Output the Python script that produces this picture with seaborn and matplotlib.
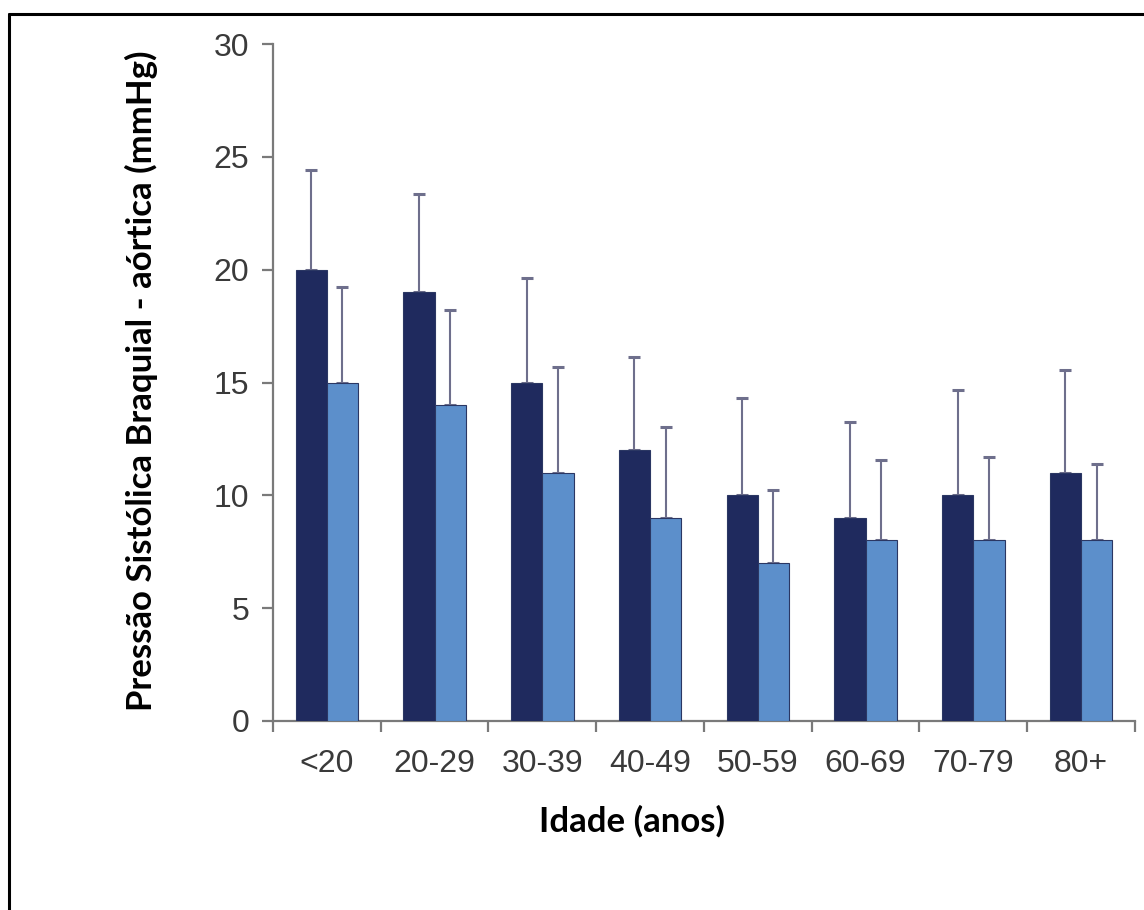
import numpy as np
import pandas as pd
import matplotlib.pyplot as plt
from matplotlib.lines import Line2D
import seaborn as sns

idade = ['<20', '20-29', '30-39', '40-49', '50-59', '60-69', '70-79', '80+']
serie_1 = [20, 19, 15, 12, 10, 9, 10, 11]
serie_2 = [15, 14, 11, 9, 7, 8, 8, 8]
erro_1 = [4.4, 4.35, 4.65, 4.15, 4.3, 4.25, 4.65, 4.55]
erro_2 = [4.25, 4.2, 4.7, 4.05, 3.25, 3.55, 3.7, 3.4]

df = pd.DataFrame({
    'idade': idade * 2,
    'valor': serie_1 + serie_2,
    'grupo': ['1'] * len(idade) + ['2'] * len(idade),
})

sns.set_style('white')
plt.rcParams['font.family'] = ['Liberation Sans', 'DejaVu Sans']

fig = plt.figure(figsize=(11.44, 9.1), dpi=100)
ax = fig.add_axes([0.2386, 0.2077, 0.7535, 0.7439])

sns.barplot(data=df, x='idade', y='valor', hue='grupo',
            palette=['#1f2a5e', '#5c8fcb'], saturation=1, width=0.58,
            edgecolor='#2b3763', linewidth=0.8, legend=False, ax=ax,
            zorder=3)

# error bars (upper only)
for cont, err in zip(ax.containers, [erro_1, erro_2]):
    xs = [b.get_x() + b.get_width() / 2 for b in cont]
    ys = [b.get_height() for b in cont]
    ax.errorbar(xs, ys, yerr=[np.zeros(len(err)), err], fmt='none',
                ecolor='#6e6f8c', elinewidth=1.5, capsize=4.5, capthick=2.2,
                zorder=2)

ax.set_ylim(0, 30)
ax.set_xlim(-0.5, len(idade) - 0.5)
ax.set_yticks(range(0, 31, 5))

for s in ['top', 'right']:
    ax.spines[s].set_visible(False)
for s in ['left', 'bottom']:
    ax.spines[s].set_color('#7a7a7a')
    ax.spines[s].set_linewidth(1.6)

ax.tick_params(axis='y', direction='out', length=8, width=1.6, color='#7a7a7a',
               labelsize=23, labelcolor='#3a3a3a', pad=9, left=True)
ax.set_xticks(np.arange(-0.5, len(idade)), minor=True)
ax.tick_params(axis='x', which='minor', direction='out', length=8, width=1.6,
               color='#7a7a7a', bottom=True)
ax.tick_params(axis='x', which='major', length=0, labelsize=23,
               labelcolor='#3a3a3a', pad=20)

ax.set_xlabel('Idade (anos)', fontsize=25, fontweight='bold',
              family=['Lato', 'DejaVu Sans'], color='black')
ax.set_ylabel('Pressão Sistólica Braquial - aórtica (mmHg)', fontsize=25,
              fontweight='bold', family=['Lato', 'DejaVu Sans'], color='black')
ax.xaxis.set_label_coords(0.4165, -0.124)
ax.yaxis.set_label_coords(-0.133, 0.502)

# frame lines of the original image (left and top only)
fig.add_artist(Line2D([9 / 1144, 9 / 1144], [0, 1 - 14 / 910],
                      color='black', linewidth=2.2))
fig.add_artist(Line2D([9 / 1144, 1], [1 - 14 / 910, 1 - 14 / 910],
                      color='black', linewidth=2.2))

fig.savefig('out.png', dpi=100)
